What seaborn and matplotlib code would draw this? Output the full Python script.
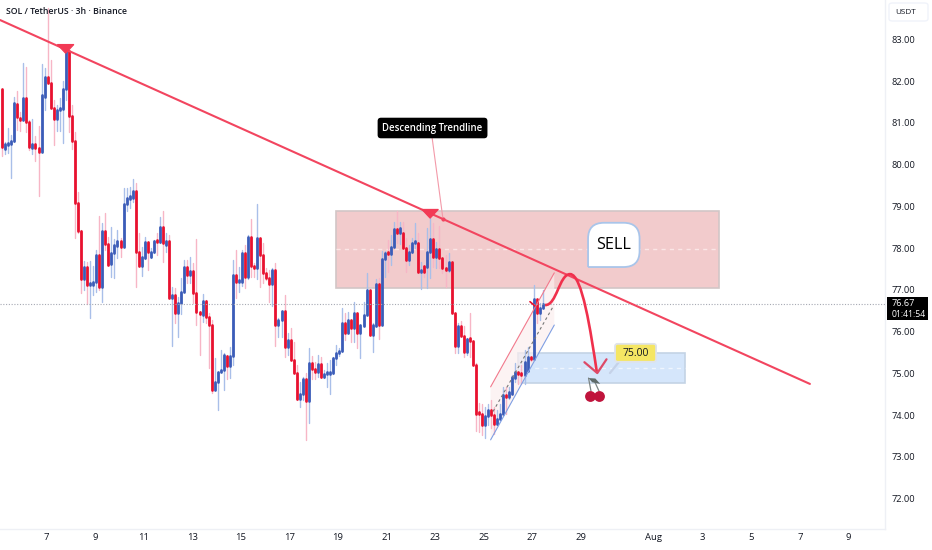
import numpy as np
import pandas as pd
import matplotlib
matplotlib.use("Agg")
import matplotlib.pyplot as plt
from matplotlib.patches import Rectangle, Polygon, FancyBboxPatch, PathPatch
from matplotlib.path import Path
import seaborn as sns
import seaborn.objects as so

# 3h candles
opens = [81.82,80.37,80.47,80.50,80.58,81.46,81.13,81.07,81.59,81.02,
         80.40,80.50,80.40,80.30,81.63,82.11,81.95,81.37,81.10,81.30,
         81.33,81.82,82.73,81.17,80.58,79.08,78.42,77.26,77.56,77.11,
         77.12,77.18,77.84,77.07,78.42,78.10,77.62,77.88,78.06,78.17,
         78.04,79.05,79.19,79.20,79.37,77.91,77.58,77.76,78.14,77.78,
         77.92,78.17,78.14,78.50,78.08,78.17,76.80,76.87,76.44,76.70,
         76.94,77.56,77.36,77.46,76.93,76.48,76.40,76.74,76.36,76.16,
         74.60,74.80,75.03,75.08,75.43,75.17,75.41,77.36,77.18,77.20,
         77.88,77.30,78.28,77.58,77.52,78.24,77.84,77.40,77.28,77.14,
         77.49,76.16,76.28,76.50,75.63,75.80,75.32,75.00,74.40,74.52,
         74.86,74.33,75.24,75.10,75.04,75.22,74.92,74.98,74.98,75.00,
         75.37,75.48,75.54,76.22,75.98,76.28,76.08,76.44,75.96,76.14,
         76.40,77.00,75.92,76.14,77.14,76.16,77.74,77.88,77.86,78.04,
         78.46,78.37,78.37,78.00,77.72,77.92,78.13,78.13,77.44,77.57,
         77.56,77.92,78.22,77.80,77.97,77.76,77.53,77.48,77.68,76.44,
         75.67,76.14,75.90,75.52,75.82,75.79,75.20,74.06,74.04,73.77,
         73.97,74.13,74.00,73.78,73.92,74.04,74.48,74.44,74.52,74.90,
         75.04,74.98,74.96,75.05,75.38,75.34,76.78,76.44,76.58]
closes = [80.43,80.49,80.51,80.58,81.47,81.15,81.07,81.59,81.02,80.42,
          80.50,80.40,80.30,81.66,82.11,81.95,81.35,81.10,81.30,81.33,
          81.82,82.73,81.17,80.58,79.08,78.42,77.26,77.56,77.12,77.14,
          77.18,77.84,77.08,78.42,78.10,77.60,77.88,78.07,78.17,78.04,
          79.06,79.20,79.22,79.37,77.91,77.58,77.78,78.14,77.91,77.92,
          78.17,78.14,78.50,78.12,78.17,76.80,76.88,76.44,76.70,76.96,
          77.56,77.36,77.46,76.92,76.48,76.42,76.74,76.36,76.16,74.60,
          74.80,75.03,75.08,75.44,75.17,75.43,77.36,77.18,77.20,77.88,
          77.30,78.28,77.58,77.52,78.24,77.84,77.40,77.28,77.14,77.49,
          76.16,76.28,76.50,75.63,75.80,75.32,75.00,74.40,74.52,74.86,
          74.33,75.24,75.10,75.04,75.22,74.92,74.98,74.99,75.00,75.37,
          75.48,75.54,76.22,75.98,76.28,76.08,76.44,75.98,76.16,76.40,
          77.00,75.92,76.16,77.14,76.16,77.74,77.88,77.86,78.04,78.45,
          78.37,78.49,78.00,77.73,77.92,78.13,78.15,77.44,77.48,77.44,
          77.92,78.22,77.80,77.97,77.76,77.53,77.48,77.68,76.44,75.67,
          76.14,75.90,75.52,75.82,75.79,75.20,74.04,74.02,73.77,73.97,
          74.13,74.00,73.78,73.92,74.04,74.48,74.44,74.56,74.92,75.04,
          74.99,74.96,75.28,75.40,75.34,76.78,76.44,76.58,76.67]
highs = [81.82,80.55,80.87,80.72,81.62,81.77,81.27,82.43,82.35,81.07,
         81.10,80.68,80.92,82.42,82.31,83.75,82.51,81.55,81.43,81.61,
         82.00,82.77,82.77,81.43,80.78,79.34,78.44,77.70,77.66,77.70,
         77.58,77.96,78.78,78.60,78.84,78.28,78.50,78.22,78.44,78.24,
         79.45,79.44,79.47,79.67,79.56,78.36,78.04,78.26,78.14,78.00,
         78.20,78.36,78.76,78.88,78.36,78.32,77.08,77.05,76.84,77.28,
         77.72,77.72,77.78,77.64,78.21,76.50,76.90,76.76,76.44,76.28,
         75.36,75.04,75.56,75.50,75.44,75.64,77.73,77.96,77.54,77.96,
         78.08,78.32,78.70,77.64,79.06,78.24,78.12,77.52,77.48,77.52,
         77.64,76.34,76.50,76.88,75.96,76.08,75.76,75.20,74.80,74.92,
         75.00,75.60,75.42,75.28,75.44,75.40,75.08,75.24,75.32,75.40,
         75.68,75.60,76.58,76.46,76.48,76.28,76.72,76.44,76.16,76.72,
         77.40,77.00,76.20,77.26,77.28,77.94,77.94,78.20,78.32,78.64,
         78.90,78.64,78.64,78.24,78.08,78.24,78.60,78.36,77.68,77.57,
         78.48,78.72,78.60,78.15,78.53,77.76,77.84,77.88,77.68,76.44,
         76.22,76.26,76.14,75.84,76.46,75.79,75.26,74.30,74.28,74.20,
         74.28,74.36,74.20,74.12,74.28,74.68,74.68,74.68,74.96,75.24,
         75.04,75.20,75.56,75.64,75.40,77.12,76.78,76.68,77.00]
lows = [80.21,80.25,80.27,79.69,80.55,80.84,80.82,81.07,80.79,80.35,
        80.26,80.08,79.24,80.30,81.31,81.95,81.35,80.47,80.82,80.80,
        80.53,81.55,80.79,80.37,78.24,78.36,76.92,77.00,76.67,76.32,
        76.88,76.96,77.00,76.72,77.96,77.60,77.30,77.28,77.76,77.78,
        78.04,78.88,78.97,79.10,77.08,77.58,77.34,77.74,77.48,77.76,
        77.88,77.84,78.12,77.66,77.92,76.80,75.67,76.22,75.87,76.42,
        76.94,77.16,77.16,76.70,76.16,75.44,76.24,76.20,75.12,74.53,
        74.60,74.12,75.03,74.60,74.86,74.90,75.20,76.82,76.94,77.10,
        77.04,77.26,77.32,77.30,77.26,77.08,77.16,77.24,76.72,76.62,
        75.66,75.88,75.88,75.40,75.44,75.32,75.00,74.36,74.20,74.36,
        73.41,73.82,74.87,74.87,74.92,74.88,74.88,74.68,74.52,74.98,
        75.20,75.42,75.52,75.80,75.96,75.76,75.76,75.60,75.38,76.14,
        76.40,75.92,75.52,76.14,75.82,76.16,77.32,77.44,77.60,78.04,
        78.12,78.10,78.00,77.44,77.60,77.88,78.00,77.40,77.02,77.30,
        77.04,77.28,77.56,77.52,77.52,77.40,77.08,77.44,76.44,75.48,
        75.48,75.90,75.40,75.44,75.40,75.20,73.63,73.60,73.53,73.45,
        73.77,73.69,73.56,73.76,73.90,74.04,74.04,74.40,74.50,74.80,
        74.76,74.76,74.75,75.05,75.30,75.34,76.20,76.28,76.58]

y_ticks = [72, 73, 74, 75, 76, 77, 78, 79, 80, 81, 82, 83]
x_ticks = [7, 9, 11, 13, 15, 17, 19, 21, 23, 25, 27, 29, 32, 34, 36, 38, 40]
x_labels = ["7", "9", "11", "13", "15", "17", "19", "21", "23", "25", "27", "29",
            "Aug", "3", "5", "7", "9"]

# drawings on the chart: x in days from 1 Jul (Aug 1 = 32), y in price
trend_x = [5.09, 38.42]
trend_y = [83.467, 74.75]
last_price = 76.67

RED = "#e8112f"
BLUE = "#3b5cb8"
RED_WICK = "#f7b6c6"
BLUE_WICK = "#a9bfe9"
LINE_RED = "#f2455f"
TXT = "#131722"
FONT = ["Open Sans", "DejaVu Sans"]

sns.set_theme(style="white")
plt.rcParams["font.family"] = FONT

df = pd.DataFrame({"open": opens, "close": closes, "high": highs, "low": lows})
df["day"] = 5.175 + 0.125 * df.index
df["top"] = df[["open", "close"]].max(axis=1)
df["bot"] = df[["open", "close"]].min(axis=1)
# very small bodies still show as about 1px
thin = (df["top"] - df["bot"]) < 0.05
df.loc[thin, "top"] = df.loc[thin, "bot"] + 0.05
up = df[df["close"] >= df["open"]]
down = df[df["close"] < df["open"]]

fig = plt.figure(figsize=(9.32, 5.5), dpi=100, facecolor="white")
ax = fig.add_axes([0, 21 / 550, 885 / 932, 529 / 550])
ax.set_xlim(5.09, 41.51)
ax.set_ylim(71.275, 83.946)

p = so.Plot().theme({"lines.solid_capstyle": "butt"})
p = p.add(so.Range(color=BLUE_WICK, linewidth=1.0), data=up, x="day", ymin="low", ymax="high")
p = p.add(so.Range(color=RED_WICK, linewidth=1.0), data=down, x="day", ymin="low", ymax="high")
p = p.add(so.Range(color=BLUE, linewidth=2.0), data=up, x="day", ymin="bot", ymax="top")
p = p.add(so.Range(color=RED, linewidth=2.0), data=down, x="day", ymin="bot", ymax="top")
p.on(ax).plot()

ax.set_xlim(5.09, 41.51)
ax.set_ylim(71.275, 83.946)
ax.set_xlabel("")
ax.set_ylabel("")

# zones
ax.add_patch(Rectangle((18.92, 77.05), 15.76, 1.84, fc="#f2cbcc", ec="#d2c6c6", lw=1.2, zorder=1))
ax.plot([18.92, 34.68], [77.97, 77.97], color="#fbe6e6", lw=1, ls=(0, (3, 3)), zorder=1.5)
ax.add_patch(Rectangle((26.41, 74.77), 6.86, 0.72, fc="#d5e6fb", ec="#c3d3e5", lw=1.2, zorder=1))
ax.plot([26.41, 33.27], [75.13, 75.13], color="#eef5fe", lw=1, ls=(0, (3, 3)), zorder=1.5)

# rising channel
ax.add_patch(Polygon([(25.28, 74.68), (27.9, 77.41), (27.9, 76.16), (25.28, 73.41)],
                     fc="#fbeeee", ec="none", alpha=0.7, zorder=1.2))
ax.plot([25.28, 27.9], [74.68, 77.41], color="#f2798c", lw=0.8, zorder=2.5)
ax.plot([25.28, 27.9], [73.41, 76.16], color="#7f9fe3", lw=0.8, zorder=2.5)
ax.plot([25.38, 27.85], [74.09, 76.6], color="#777777", lw=0.8, ls=(0, (2.5, 2.5)), zorder=2.5)

# last price line
ax.axhline(last_price, color="#a6a9b3", lw=0.8, ls=(0, (1, 1.5)), zorder=2.6)

# trendline and pivots
ax.plot(trend_x, trend_y, color=LINE_RED, lw=1.5, zorder=3)
ax.add_patch(Polygon([(7.45, 82.88), (8.13, 82.88), (7.79, 82.67)], fc="#f23a55", ec="#f23a55",
                     lw=0.8, zorder=4))
ax.add_patch(Polygon([(22.45, 78.93), (23.13, 78.93), (22.79, 78.72)], fc="#f23a55", ec="#f23a55",
                     lw=0.8, zorder=4))

# trendline label
ax.plot([22.87, 23.32], [80.66, 78.7], color="#f39aa9", lw=0.8, zorder=3)
ax.plot([23.32], [78.7], marker="o", ms=2, color=LINE_RED, zorder=3)
ax.text(22.89, 80.88, "Descending Trendline", color="white", fontsize=6.9, fontweight="semibold",
        ha="center", va="center", zorder=6,
        bbox=dict(boxstyle="round,pad=0.5,rounding_size=0.35", fc="black", ec="black", lw=0))

# SELL bubble, bottom-left corner stays square
x0, x1, y0, y1 = 29.29, 31.41, 77.55, 78.61
rx, ry = 0.66, 0.38
bubble = Path([(x0, y0), (x0, y1 - ry), (x0, y1), (x0 + rx, y1), (x1 - rx, y1), (x1, y1),
               (x1, y1 - ry), (x1, y0 + ry), (x1, y0), (x1 - rx, y0), (x0, y0)],
              [Path.MOVETO, Path.LINETO, Path.CURVE3, Path.CURVE3, Path.LINETO, Path.CURVE3,
               Path.CURVE3, Path.LINETO, Path.CURVE3, Path.CURVE3, Path.LINETO])
ax.add_patch(PathPatch(bubble, fc="white", ec="#a9c5ea", lw=1.3, zorder=5))
ax.text(30.34, 78.07, "SELL", color="black", fontsize=11.6, ha="center", va="center", zorder=6)

# forecast curve and arrow head
forecast = Path([(27.52, 76.64), (28.0, 76.62), (28.1, 77.38), (28.55, 77.38),
                 (29.05, 77.38), (29.4, 76.0), (29.65, 75.04)],
                [Path.MOVETO, Path.CURVE4, Path.CURVE4, Path.CURVE4,
                 Path.CURVE4, Path.CURVE4, Path.CURVE4])
ax.add_patch(PathPatch(forecast, fc="none", ec="#f0304c", lw=1.9, zorder=5))
ax.plot([29.14, 29.67, 30.05], [75.27, 75.01, 75.34], color="#dd4a68", lw=1.6, zorder=5)
ax.plot([26.9, 27.1], [76.72, 76.62], color=RED, lw=1.2, zorder=4)

# target tag
ax.plot([30.19, 30.69], [75.01, 75.37], color="#c5d2e8", lw=1.6, zorder=5)
ax.add_patch(FancyBboxPatch((30.40, 75.28), 1.69, 0.43, mutation_aspect=0.582,
                            boxstyle="round,pad=0,rounding_size=0.1",
                            fc="#f5e663", ec="#dfe3ea", lw=1.3, zorder=6))
ax.text(31.25, 75.49, "75.00", color=TXT, fontsize=7.5, ha="center", va="center", zorder=7)

# cherry
ax.plot([29.31, 29.41], [74.89, 74.58], color="#7c8584", lw=0.9, zorder=5)
ax.plot([29.55, 29.74], [74.82, 74.58], color="#7c8584", lw=0.9, zorder=5)
ax.add_patch(Polygon([(29.31, 74.89), (29.59, 74.88), (29.79, 74.75), (29.46, 74.79)],
                     fc="#5f6b69", ec="none", zorder=5))
ax.plot([29.37, 29.75], [74.47, 74.47], ls="none", marker="o", ms=7.8, mfc="#c0143c",
        mec="none", zorder=5)

# axes
sns.despine(ax=ax, left=True, top=True, right=False, bottom=False)
for s in ["right", "bottom"]:
    ax.spines[s].set_color("#eef0f5")
    ax.spines[s].set_linewidth(1)
ax.set_xticks(x_ticks)
ax.set_xticklabels(x_labels)
ax.set_yticks(y_ticks)
ax.set_yticklabels([f"{v:.2f}" for v in y_ticks])
ax.yaxis.tick_right()
ax.tick_params(axis="x", length=0, pad=3, labelsize=6.8, labelcolor=TXT)
ax.tick_params(axis="y", length=0, pad=5, labelsize=6.7, labelcolor=TXT)
ax.minorticks_off()
ax.grid(False)
ax.set_facecolor("white")

# header
fig.text(5.5 / 932, 1 - 12 / 550, "SOL / TetherUS · 3h · Binance", color=TXT, fontsize=6.3,
         fontweight="semibold", ha="left", va="center")

# USDT button and price tag on the scale
fig.add_artist(FancyBboxPatch((889 / 932, 1 - 21 / 550), 39 / 932, 18 / 550,
                              boxstyle="round,pad=0,rounding_size=0.004",
                              transform=fig.transFigure, fc="white", ec="#f0f3fa", lw=1))
fig.text(895 / 932, 1 - 12 / 550, "USDT", color=TXT, fontsize=5.9, ha="left", va="center")
fig.add_artist(Rectangle((886.5 / 932, 1 - 320 / 550), 41.5 / 932, 23 / 550,
                         transform=fig.transFigure, fc="black", ec="none"))
fig.text(892 / 932, 1 - 303 / 550, "76.67", color="white", fontsize=6.6, ha="left", va="center")
fig.text(892 / 932, 1 - 314.5 / 550, "01:41:54", color="white", fontsize=6.2, ha="left", va="center")

fig.savefig("out.png", dpi=100)
